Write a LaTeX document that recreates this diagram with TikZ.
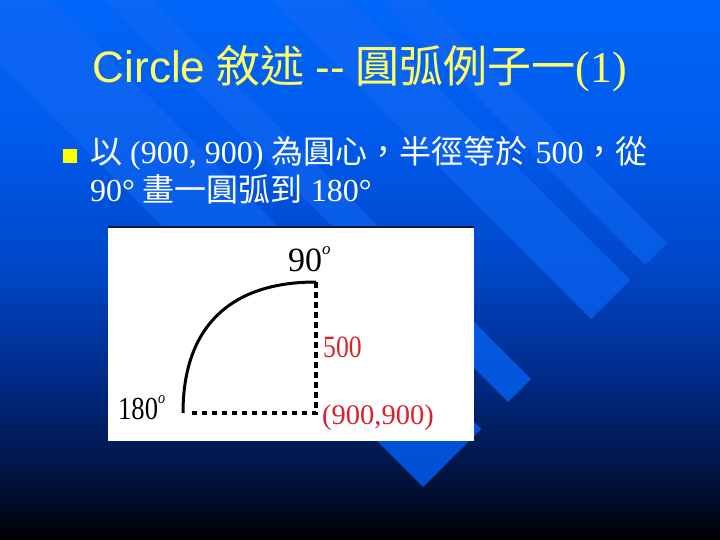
\documentclass[tikz,border=0pt]{standalone}
\usepackage{fontspec}
\setmainfont{Liberation Serif}
\newfontfamily\arialfont{Liberation Sans}
\newfontfamily\condserif{Liberation Serif}[FakeStretch=0.83]
\newfontfamily\cjkfont{Noto Sans CJK TC}
\newcommand{\zh}[1]{{\cjkfont #1}}
\newcommand{\supo}{\raisebox{0.5em}{\fontsize{17}{17}\selectfont\itshape o}}
\definecolor{bgtop}{RGB}{0,102,250}
\definecolor{bgD}{RGB}{0,90,235}
\definecolor{bgC}{RGB}{0,70,200}
\definecolor{bgB}{RGB}{0,42,135}
\definecolor{bgA}{RGB}{0,18,55}
\definecolor{bandC}{RGB}{10,108,255}
\definecolor{bandB}{RGB}{12,100,242}
\definecolor{bandA}{RGB}{0,80,212}
\definecolor{titleyellow}{RGB}{255,255,102}
\definecolor{bulletyellow}{RGB}{255,255,0}
\definecolor{markred}{RGB}{215,35,45}
\definecolor{paneledge}{RGB}{10,20,60}
\pgfdeclareverticalshading{slidebg}{100bp}{color(0bp)=(black); color(25bp)=(black);
  color(30bp)=(bgA); color(40bp)=(bgB); color(50bp)=(bgC); color(62bp)=(bgD);
  color(75bp)=(bgtop); color(100bp)=(bgtop)}
\pgfdeclareverticalshading{bandbg}{100bp}{color(0bp)=(bandA); color(25bp)=(bandA);
  color(54bp)=(bandB); color(72bp)=(bandC); color(100bp)=(bandC)}
\begin{document}
\begin{tikzpicture}[x=1pt, y=-1pt,
  titletext/.style={text=titleyellow, font=\fontsize{44}{50}\selectfont, anchor=base, inner sep=0pt},
  bodytext/.style={text=white, font=\fontsize{32}{38}\selectfont, anchor=base west, inner sep=0pt},
  bulletbox/.style={fill=bulletyellow, minimum size=14pt, inner sep=0pt},
  panel/.style={fill=white, minimum width=366pt, minimum height=214pt, inner sep=0pt},
  arcline/.style={line width=3pt},
  dotline/.style={line width=3.5pt, dash pattern=on 5.5pt off 4.5pt},
  lbl/.style={anchor=base west, inner sep=0pt, font=\fontsize{#1}{#1}\selectfont},
]
  \useasboundingbox (0,0) rectangle (720,540);
  \shade[shading=slidebg] (0,0) rectangle (720,540);
  % diagonal bands
  \begin{scope}
    \clip (0,0) rectangle (720,540);
    \shade[shading=bandbg]
      \foreach \ta/\tb in {380/424,272/350,106/152,-64/52}
      { ({\ta/2},{-\ta/2}) -- ({\tb/2},{-\tb/2})
        -- ({(910+\tb)/2},{(910-\tb)/2}) -- ({(910+\ta)/2},{(910-\ta)/2}) -- cycle };
  \end{scope}

  \node[titletext] (title) at (360,83)
    {{\arialfont Circle} \zh{敘述} {\arialfont -\kern0pt-} \zh{圓弧例子一}(1)};
  \node[bulletbox] (mark) at (70,156) {};
  \node[bodytext] (line1) at (90,164) {\zh{以} (900, 900) \zh{為圓心，半徑等於} 500\zh{，從}};
  \node[bodytext] (line2) at (90,202) {90° \zh{畫一圓弧到} 180°};

  % figure
  \node[panel] (panel) at (291,334) {};
  \draw[line width=2.5pt, paneledge] (panel.north west) -- (panel.north east);
  \coordinate (ctr) at (316,413);
  \coordinate (p90) at (316,282);
  \coordinate (p180) at (183,413);
  \draw[arcline] (p90) .. controls +(-86,0) and +(0,-86) .. (p180);
  \draw[dotline, shorten >=6pt] (p90) -- (ctr) -- (p180);
  \node[lbl=34] (l90) at (288,271) {90\supo};
  \node[lbl=32] (l180) at (118,419) {\condserif 180\supo};
  \node[lbl=31, text=markred] (l500) at (323,357) {\condserif 500};
  \node[lbl=28.5, text=markred] (lctr) at (322,424) {(900,900)};
\end{tikzpicture}
\end{document}
